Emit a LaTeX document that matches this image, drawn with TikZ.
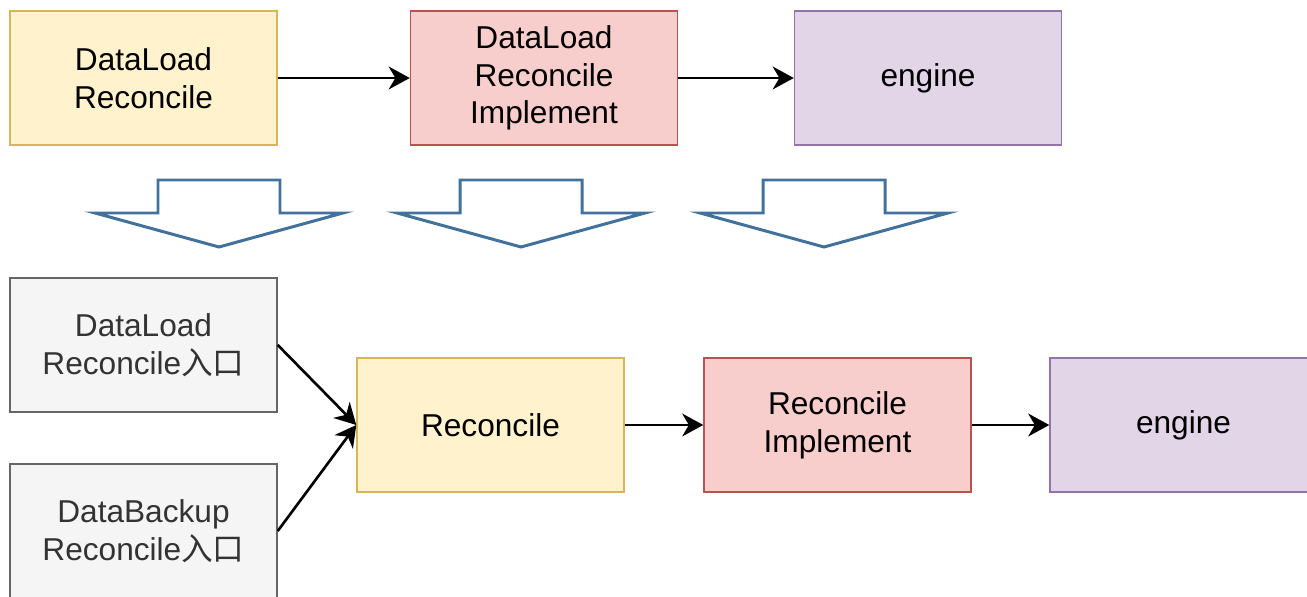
\documentclass[tikz,border=0pt]{standalone}
\usepackage{fontspec}
\setmainfont{Liberation Sans}
\newfontfamily\cjk{Noto Sans CJK SC}
\usetikzlibrary{arrows.meta}
\definecolor{ylwfill}{HTML}{FFF2CC}
\definecolor{ylwline}{HTML}{D6B656}
\definecolor{redfill}{HTML}{F8CECC}
\definecolor{redline}{HTML}{B85450}
\definecolor{prpfill}{HTML}{E1D5E7}
\definecolor{prpline}{HTML}{9673A6}
\definecolor{gryfill}{HTML}{F5F5F5}
\definecolor{gryline}{HTML}{666666}
\definecolor{grytext}{HTML}{333333}
\definecolor{bigblue}{HTML}{41719C}

\begin{document}
\begin{tikzpicture}[x=0.02cm, y=-0.02cm,
  box/.style={draw, line width=0.85pt, minimum width=5.34cm, minimum height=2.68cm,
    align=center, font=\fontsize{18}{21.5}\selectfont, inner sep=0pt},
  ylw/.style={box, fill=ylwfill, draw=ylwline},
  red/.style={box, fill=redfill, draw=redline},
  prp/.style={box, fill=prpfill, draw=prpline},
  gry/.style={box, fill=gryfill, draw=gryline, text=grytext},
  link/.style={line width=1.5pt, -{Stealth[length=12pt, width=13pt, inset=3.8pt]}},
  bigarrow/.style={draw=bigblue, line width=1.7pt, fill=white, line join=miter}]
\useasboundingbox (0,0) rectangle (1307,597);
\clip (0,0) rectangle (1307,597);
\node[ylw] (load) at (143.5,78) {DataLoad\\Reconcile};
\node[red] (loadimpl) at (544,78) {DataLoad\\Reconcile\\Implement};
\node[prp] (engine1) at (928,78) {engine};
\draw[link] (load) -- (loadimpl);
\draw[link] (loadimpl) -- (engine1);
\foreach \x in {219,521,824}
\draw[bigarrow] (\x-61,180) -- (\x+61,180) -- (\x+61,213) -- (\x+124,213)
  -- (\x,247) -- (\x-124,213) -- (\x-61,213) -- cycle;
\node[gry] (loadin) at (143.5,345) {DataLoad\\Reconcile{\cjk 入口}};
\node[gry] (backupin) at (143.5,531) {DataBackup\\Reconcile{\cjk 入口}};
\node[ylw] (rec) at (490.5,425) {Reconcile};
\node[red] (recimpl) at (837.5,425) {Reconcile\\Implement};
\node[prp] (engine2) at (1183.5,425) {engine};
\draw[link] (loadin.east) -- (rec.west);
\draw[link] (backupin.east) -- (rec.west);
\draw[link] (rec) -- (recimpl);
\draw[link] (recimpl) -- (engine2);
\end{tikzpicture}
\end{document}
